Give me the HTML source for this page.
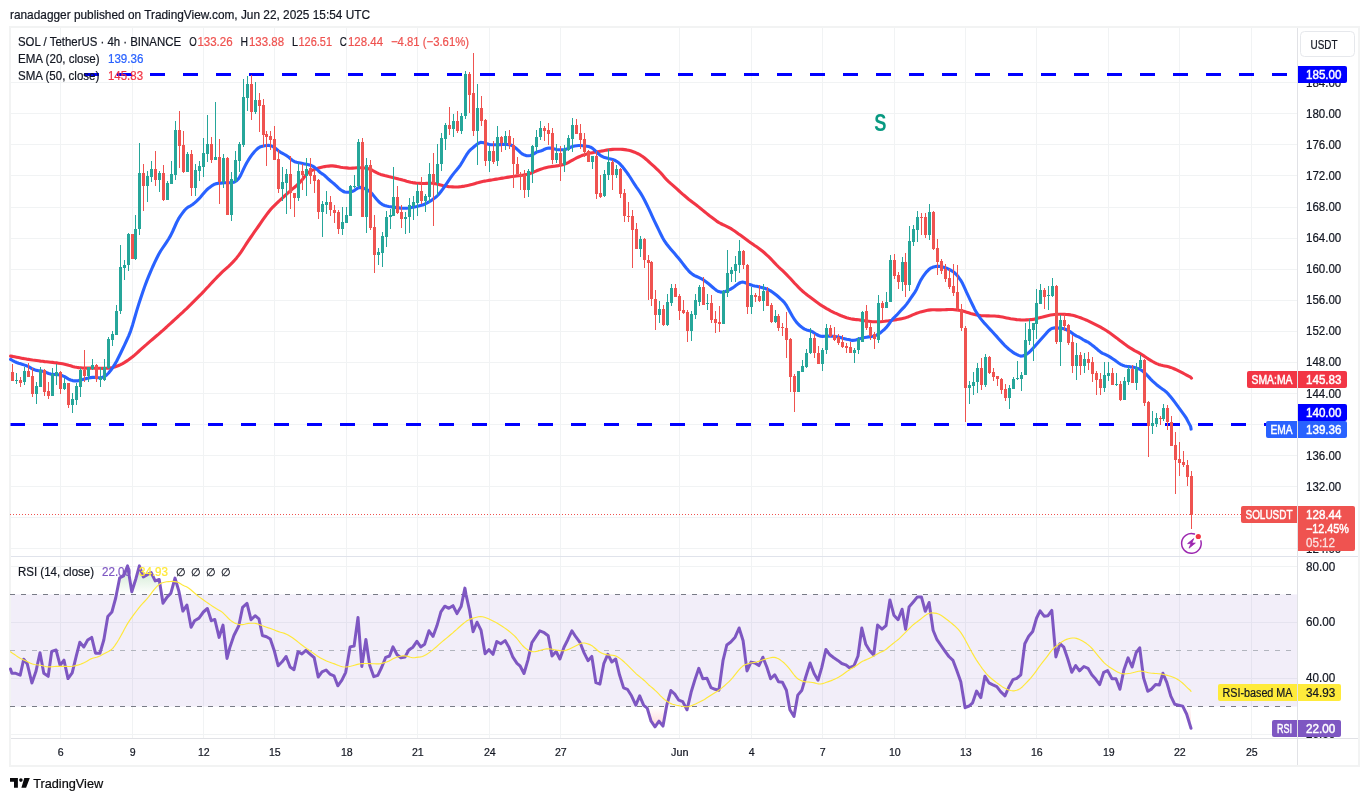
<!DOCTYPE html>
<html lang="en"><head><meta charset="utf-8"><title>SOL / TetherUS chart</title>
<style>html,body{margin:0;padding:0;background:#fff;overflow:hidden}svg{display:block}text{white-space:pre}</style>
</head><body>
<svg width="1369" height="801" viewBox="0 0 1369 801" font-family='"Liberation Sans", sans-serif'>
<rect width="1369" height="801" fill="#fff"/>
<path d="M60.5 28V556M60.5 557V738M132.5 28V556M132.5 557V738M203.5 28V556M203.5 557V738M274.5 28V556M274.5 557V738M346.5 28V556M346.5 557V738M417.5 28V556M417.5 557V738M489.5 28V556M489.5 557V738M560.5 28V556M560.5 557V738M679.5 28V556M679.5 557V738M751.5 28V556M751.5 557V738M822.5 28V556M822.5 557V738M894.5 28V556M894.5 557V738M965.5 28V556M965.5 557V738M1036.5 28V556M1036.5 557V738M1108.5 28V556M1108.5 557V738M1179.5 28V556M1179.5 557V738M1251.5 28V556M1251.5 557V738M11 548.5H1297M11 517.5H1297M11 486.5H1297M11 455.5H1297M11 424.5H1297M11 393.5H1297M11 362.5H1297M11 331.5H1297M11 300.5H1297M11 269.5H1297M11 238.5H1297M11 207.5H1297M11 175.5H1297M11 144.5H1297M11 113.5H1297M11 82.5H1297M11 566.5H1297M11 622.5H1297M11 678.5H1297M11 734.5H1297" stroke="#f1f3f4" stroke-width="1" fill="none" shape-rendering="crispEdges"/>
<rect x="11" y="594.4" width="1286" height="112.2" fill="#7e57c2" fill-opacity="0.1"/>
<rect x="10" y="27" width="1349" height="739" stroke="#f2f3f3" stroke-width="2" fill="none" shape-rendering="crispEdges"/>
<path d="M1297.5 28V765M11 738.5H1358" stroke="#e1e2e6" fill="none" shape-rendering="crispEdges"/>
<path d="M11 556.5H1358" stroke="#e0e3eb" fill="none" stroke-width="1" shape-rendering="crispEdges"/>
<path d="M84.0 74.5H99.0M117.0 74.5H132.0M150.0 74.5H165.0M183.0 74.5H198.0M216.0 74.5H231.0M249.0 74.5H264.0M282.0 74.5H297.0M315.0 74.5H330.0M348.0 74.5H363.0M381.0 74.5H396.0M414.0 74.5H429.0M447.0 74.5H462.0M480.0 74.5H495.0M513.0 74.5H528.0M546.0 74.5H561.0M579.0 74.5H594.0M612.0 74.5H627.0M645.0 74.5H660.0M678.0 74.5H693.0M711.0 74.5H726.0M744.0 74.5H759.0M777.0 74.5H792.0M810.0 74.5H825.0M843.0 74.5H858.0M876.0 74.5H891.0M909.0 74.5H924.0M942.0 74.5H957.0M975.0 74.5H990.0M1008.0 74.5H1023.0M1041.0 74.5H1056.0M1074.0 74.5H1089.0M1107.0 74.5H1122.0M1140.0 74.5H1155.0M1173.0 74.5H1188.0M1206.0 74.5H1221.0M1239.0 74.5H1254.0M1272.0 74.5H1287.0" stroke="#0000ff" stroke-width="3" fill="none"/>
<path d="M10.5 424.5H25.0M43.0 424.5H58.0M76.0 424.5H91.0M109.0 424.5H124.0M142.0 424.5H157.0M175.0 424.5H190.0M208.0 424.5H223.0M241.0 424.5H256.0M274.0 424.5H289.0M307.0 424.5H322.0M340.0 424.5H355.0M373.0 424.5H388.0M406.0 424.5H421.0M439.0 424.5H454.0M472.0 424.5H487.0M505.0 424.5H520.0M538.0 424.5H553.0M571.0 424.5H586.0M604.0 424.5H619.0M637.0 424.5H652.0M670.0 424.5H685.0M703.0 424.5H718.0M736.0 424.5H751.0M769.0 424.5H784.0M802.0 424.5H817.0M835.0 424.5H850.0M868.0 424.5H883.0M901.0 424.5H916.0M934.0 424.5H949.0M967.0 424.5H982.0M1000.0 424.5H1015.0M1033.0 424.5H1048.0M1066.0 424.5H1081.0M1099.0 424.5H1114.0M1132.0 424.5H1147.0M1165.0 424.5H1180.0M1198.0 424.5H1213.0M1231.0 424.5H1246.0M1264.0 424.5H1279.0" stroke="#0000ff" stroke-width="3" fill="none"/>
<path d="M10.6 356.1L12.6 356.4L14.6 356.8L16.6 357.2L18.6 357.6L20.6 358.0L22.6 358.4L24.6 358.7L26.6 359.1L28.6 359.4L30.6 359.7L32.6 360.0L34.6 360.2L36.6 360.5L38.6 360.8L40.6 361.1L42.6 361.3L44.6 361.6L46.6 361.8L48.6 362.0L50.6 362.2L52.6 362.4L54.6 362.7L56.6 362.9L58.6 363.2L60.6 363.5L62.6 363.8L64.6 364.2L66.6 364.7L68.6 365.3L70.6 365.8L72.6 366.4L74.6 366.9L76.6 367.3L78.6 367.6L80.6 367.8L82.6 368.0L84.6 368.1L86.6 368.1L88.6 368.1L90.6 368.1L92.6 368.2L94.6 368.2L96.6 368.2L98.6 368.3L100.6 368.3L102.6 368.4L104.6 368.3L106.6 368.3L108.6 368.1L110.6 367.9L112.6 367.5L114.6 367.0L116.6 366.3L118.6 365.5L120.6 364.6L122.6 363.6L124.6 362.4L126.6 361.1L128.6 359.8L130.6 358.3L132.6 356.8L134.6 355.1L136.6 353.3L138.6 351.5L140.6 349.7L142.6 347.9L144.6 346.1L146.6 344.4L148.6 342.6L150.6 340.9L152.6 339.2L154.6 337.5L156.6 335.8L158.6 334.1L160.6 332.3L162.6 330.6L164.6 328.8L166.6 327.0L168.6 325.1L170.6 323.3L172.6 321.5L174.6 319.7L176.6 317.8L178.6 316.0L180.6 314.1L182.6 312.3L184.6 310.4L186.6 308.6L188.6 306.6L190.6 304.7L192.6 302.7L194.6 300.7L196.6 298.7L198.6 296.7L200.6 294.7L202.6 292.6L204.6 290.5L206.6 288.3L208.6 286.2L210.6 284.0L212.6 281.9L214.6 279.8L216.6 277.7L218.6 275.7L220.6 273.6L222.6 271.7L224.6 269.9L226.6 268.1L228.6 266.3L230.6 264.4L232.6 262.4L234.6 260.2L236.6 257.9L238.6 255.4L240.6 252.6L242.6 249.6L244.6 246.5L246.6 243.4L248.6 240.4L250.6 237.5L252.6 234.6L254.6 231.7L256.6 228.9L258.6 226.0L260.6 223.1L262.6 220.1L264.6 217.3L266.6 214.6L268.6 212.0L270.6 209.6L272.6 207.3L274.6 205.3L276.6 203.3L278.6 201.5L280.6 199.6L282.6 197.8L284.6 196.0L286.6 194.2L288.6 192.4L290.6 190.6L292.6 188.9L294.6 187.2L296.6 185.5L298.6 183.7L300.6 181.6L302.6 179.2L304.6 176.6L306.6 174.2L308.6 172.4L310.6 171.1L312.6 170.1L314.6 169.4L316.6 168.7L318.6 168.1L320.6 167.5L322.6 167.0L324.6 166.6L326.6 166.3L328.6 166.1L330.6 165.9L332.6 165.9L334.6 166.1L336.6 166.4L338.6 166.8L340.6 167.2L342.6 167.5L344.6 167.7L346.6 167.9L348.6 168.1L350.6 168.2L352.6 168.1L354.6 168.0L356.6 167.8L358.6 167.8L360.6 167.8L362.6 167.9L364.6 168.0L366.6 168.3L368.6 168.8L370.6 169.5L372.6 170.5L374.6 171.6L376.6 172.7L378.6 173.6L380.6 174.4L382.6 175.0L384.6 175.6L386.6 176.1L388.6 176.6L390.6 177.0L392.6 177.4L394.6 177.9L396.6 178.4L398.6 179.0L400.6 179.5L402.6 180.1L404.6 180.6L406.6 181.2L408.6 181.7L410.6 182.2L412.6 182.6L414.6 182.9L416.6 183.2L418.6 183.3L420.6 183.4L422.6 183.5L424.6 183.5L426.6 183.4L428.6 183.3L430.6 183.2L432.6 183.3L434.6 183.6L436.6 184.0L438.6 184.4L440.6 184.9L442.6 185.4L444.6 185.8L446.6 186.3L448.6 186.6L450.6 186.8L452.6 186.9L454.6 187.0L456.6 187.0L458.6 186.9L460.6 186.7L462.6 186.4L464.6 186.1L466.6 185.7L468.6 185.3L470.6 184.8L472.6 184.3L474.6 183.7L476.6 183.1L478.6 182.6L480.6 182.0L482.6 181.5L484.6 181.1L486.6 180.8L488.6 180.4L490.6 180.1L492.6 179.8L494.6 179.4L496.6 179.1L498.6 178.8L500.6 178.4L502.6 178.1L504.6 177.8L506.6 177.4L508.6 177.1L510.6 176.8L512.6 176.5L514.6 176.2L516.6 175.9L518.6 175.7L520.6 175.4L522.6 175.2L524.6 174.8L526.6 174.4L528.6 174.0L530.6 173.3L532.6 172.6L534.6 171.7L536.6 170.8L538.6 170.0L540.6 169.3L542.6 168.6L544.6 167.9L546.6 167.4L548.6 167.0L550.6 166.7L552.6 166.4L554.6 166.2L556.6 165.9L558.6 165.6L560.6 165.2L562.6 164.8L564.6 164.2L566.6 163.3L568.6 162.3L570.6 161.2L572.6 160.1L574.6 159.0L576.6 157.9L578.6 157.0L580.6 156.1L582.6 155.3L584.6 154.7L586.6 154.1L588.6 153.5L590.6 153.1L592.6 152.7L594.6 152.3L596.6 151.9L598.6 151.6L600.6 151.2L602.6 150.9L604.6 150.5L606.6 150.1L608.6 149.8L610.6 149.6L612.6 149.4L614.6 149.3L616.6 149.3L618.6 149.2L620.6 149.3L622.6 149.4L624.6 149.6L626.6 149.9L628.6 150.3L630.6 150.8L632.6 151.5L634.6 152.2L636.6 153.1L638.6 154.0L640.6 155.2L642.6 156.5L644.6 158.0L646.6 159.7L648.6 161.5L650.6 163.3L652.6 165.1L654.6 166.9L656.6 168.8L658.6 170.7L660.6 172.8L662.6 175.1L664.6 177.4L666.6 179.6L668.6 181.6L670.6 183.4L672.6 185.1L674.6 186.9L676.6 188.7L678.6 190.5L680.6 192.3L682.6 194.1L684.6 195.8L686.6 197.5L688.6 199.2L690.6 200.7L692.6 202.3L694.6 203.8L696.6 205.3L698.6 206.9L700.6 208.5L702.6 210.1L704.6 211.8L706.6 213.4L708.6 215.0L710.6 216.6L712.6 218.1L714.6 219.6L716.6 221.1L718.6 222.4L720.6 223.5L722.6 224.5L724.6 225.4L726.6 226.3L728.6 227.3L730.6 228.4L732.6 229.7L734.6 231.0L736.6 232.4L738.6 233.9L740.6 235.3L742.6 236.8L744.6 238.3L746.6 239.8L748.6 241.3L750.6 242.7L752.6 244.1L754.6 245.5L756.6 246.8L758.6 248.2L760.6 249.7L762.6 251.3L764.6 253.0L766.6 254.8L768.6 256.6L770.6 258.6L772.6 260.7L774.6 262.9L776.6 265.0L778.6 267.0L780.6 268.9L782.6 270.7L784.6 272.6L786.6 274.6L788.6 276.7L790.6 278.8L792.6 281.0L794.6 283.2L796.6 285.3L798.6 287.4L800.6 289.3L802.6 291.2L804.6 292.9L806.6 294.5L808.6 296.1L810.6 297.6L812.6 299.1L814.6 300.6L816.6 302.1L818.6 303.5L820.6 304.9L822.6 306.2L824.6 307.4L826.6 308.6L828.6 309.7L830.6 310.8L832.6 311.8L834.6 312.8L836.6 313.7L838.6 314.6L840.6 315.5L842.6 316.3L844.6 317.0L846.6 317.7L848.6 318.3L850.6 318.8L852.6 319.1L854.6 319.4L856.6 319.6L858.6 319.8L860.6 320.1L862.6 320.4L864.6 320.7L866.6 321.1L868.6 321.3L870.6 321.5L872.6 321.7L874.6 321.8L876.6 321.8L878.6 321.8L880.6 321.7L882.6 321.5L884.6 321.3L886.6 321.0L888.6 320.8L890.6 320.5L892.6 320.2L894.6 319.9L896.6 319.6L898.6 319.2L900.6 318.9L902.6 318.5L904.6 318.1L906.6 317.4L908.6 316.7L910.6 315.8L912.6 314.9L914.6 314.1L916.6 313.3L918.6 312.6L920.6 311.9L922.6 311.4L924.6 310.9L926.6 310.5L928.6 310.1L930.6 309.9L932.6 309.8L934.6 309.8L936.6 309.9L938.6 309.9L940.6 309.9L942.6 309.8L944.6 309.7L946.6 309.6L948.6 309.5L950.6 309.5L952.6 309.5L954.6 309.7L956.6 309.9L958.6 310.2L960.6 310.5L962.6 311.0L964.6 311.6L966.6 312.2L968.6 312.8L970.6 313.4L972.6 313.9L974.6 314.5L976.6 315.0L978.6 315.3L980.6 315.6L982.6 315.7L984.6 315.8L986.6 315.9L988.6 315.9L990.6 316.0L992.6 316.0L994.6 316.0L996.6 316.2L998.6 316.4L1000.6 316.7L1002.6 317.1L1004.6 317.5L1006.6 317.9L1008.6 318.3L1010.6 318.7L1012.6 319.0L1014.6 319.3L1016.6 319.6L1018.6 319.7L1020.6 319.9L1022.6 320.0L1024.6 320.0L1026.6 319.9L1028.6 319.8L1030.6 319.6L1032.6 319.4L1034.6 319.1L1036.6 318.6L1038.6 318.1L1040.6 317.6L1042.6 317.1L1044.6 316.5L1046.6 315.9L1048.6 315.4L1050.6 315.0L1052.6 314.7L1054.6 314.5L1056.6 314.4L1058.6 314.3L1060.6 314.3L1062.6 314.3L1064.6 314.4L1066.6 314.5L1068.6 314.6L1070.6 314.9L1072.6 315.3L1074.6 315.8L1076.6 316.4L1078.6 317.1L1080.6 317.8L1082.6 318.6L1084.6 319.4L1086.6 320.2L1088.6 321.1L1090.6 322.1L1092.6 323.1L1094.6 324.1L1096.6 325.1L1098.6 326.1L1100.6 327.2L1102.6 328.3L1104.6 329.5L1106.6 330.8L1108.6 332.1L1110.6 333.5L1112.6 334.9L1114.6 336.4L1116.6 337.9L1118.6 339.5L1120.6 341.1L1122.6 342.6L1124.6 344.1L1126.6 345.5L1128.6 346.9L1130.6 348.2L1132.6 349.4L1134.6 350.6L1136.6 351.6L1138.6 352.7L1140.6 353.9L1142.6 355.1L1144.6 356.4L1146.6 357.8L1148.6 359.1L1150.6 360.3L1152.6 361.5L1154.6 362.6L1156.6 363.6L1158.6 364.4L1160.6 365.0L1162.6 365.5L1164.6 365.9L1166.6 366.3L1168.6 366.8L1170.6 367.4L1172.6 368.1L1174.6 369.0L1176.6 369.9L1178.6 370.9L1180.6 371.9L1182.6 372.9L1184.6 374.0L1186.6 375.1L1188.6 376.2L1190.6 377.2L1191.5 378.2" stroke="#f23645" stroke-width="3.1" fill="none" stroke-linejoin="round" stroke-linecap="round"/>
<path d="M10.6 359.3L12.6 360.5L14.6 361.6L16.6 362.5L18.6 363.2L20.6 363.8L22.6 364.4L24.6 365.1L26.6 365.8L28.6 366.7L30.6 367.8L32.6 369.0L34.6 369.8L36.6 370.4L38.6 370.7L40.6 370.9L42.6 371.2L44.6 371.7L46.6 372.6L48.6 373.5L50.6 374.1L52.6 374.3L54.6 374.5L56.6 374.7L58.6 374.8L60.6 375.2L62.6 375.8L64.6 376.7L66.6 377.9L68.6 379.1L70.6 380.0L72.6 380.6L74.6 380.9L76.6 380.9L78.6 380.6L80.6 380.1L82.6 379.6L84.6 379.0L86.6 378.4L88.6 377.9L90.6 377.6L92.6 377.4L94.6 377.4L96.6 377.6L98.6 377.7L100.6 377.7L102.6 377.3L104.6 376.5L106.6 375.0L108.6 373.0L110.6 370.6L112.6 367.8L114.6 364.6L116.6 361.2L118.6 357.3L120.6 353.2L122.6 349.0L124.6 344.8L126.6 340.5L128.6 336.1L130.6 331.1L132.6 324.9L134.6 318.0L136.6 311.1L138.6 304.6L140.6 298.4L142.6 292.4L144.6 286.7L146.6 281.4L148.6 276.4L150.6 271.6L152.6 267.0L154.6 262.7L156.6 258.5L158.6 254.5L160.6 251.0L162.6 248.0L164.6 245.1L166.6 242.1L168.6 239.0L170.6 235.6L172.6 231.5L174.6 227.0L176.6 222.5L178.6 218.7L180.6 215.6L182.6 212.9L184.6 210.3L186.6 208.2L188.6 206.8L190.6 205.8L192.6 204.5L194.6 202.9L196.6 201.1L198.6 199.2L200.6 197.0L202.6 194.6L204.6 192.2L206.6 190.0L208.6 188.2L210.6 186.7L212.6 185.3L214.6 184.2L216.6 183.6L218.6 183.3L220.6 183.1L222.6 182.9L224.6 182.8L226.6 182.7L228.6 182.7L230.6 182.7L232.6 182.5L234.6 181.9L236.6 180.7L238.6 178.7L240.6 175.4L242.6 171.2L244.6 166.9L246.6 163.0L248.6 159.7L250.6 156.7L252.6 153.9L254.6 151.5L256.6 149.5L258.6 147.8L260.6 146.7L262.6 146.2L264.6 145.8L266.6 145.5L268.6 145.4L270.6 145.7L272.6 146.4L274.6 147.6L276.6 149.3L278.6 150.9L280.6 152.3L282.6 153.4L284.6 154.5L286.6 155.7L288.6 157.1L290.6 158.9L292.6 160.5L294.6 161.7L296.6 162.3L298.6 162.7L300.6 163.1L302.6 163.5L304.6 163.9L306.6 164.3L308.6 164.7L310.6 165.3L312.6 166.1L314.6 167.4L316.6 169.0L318.6 171.0L320.6 172.8L322.6 174.1L324.6 175.5L326.6 177.3L328.6 179.3L330.6 181.0L332.6 182.6L334.6 184.3L336.6 186.2L338.6 188.1L340.6 189.7L342.6 191.0L344.6 192.0L346.6 192.3L348.6 192.2L350.6 191.9L352.6 191.3L354.6 190.3L356.6 188.8L358.6 187.6L360.6 187.4L362.6 187.8L364.6 188.6L366.6 189.4L368.6 190.5L370.6 192.2L372.6 194.4L374.6 196.9L376.6 199.3L378.6 201.5L380.6 203.3L382.6 204.6L384.6 205.5L386.6 206.1L388.6 206.5L390.6 206.7L392.6 207.0L394.6 207.3L396.6 207.6L398.6 207.8L400.6 208.1L402.6 208.2L404.6 208.2L406.6 208.2L408.6 208.0L410.6 207.7L412.6 207.3L414.6 206.9L416.6 206.5L418.6 206.0L420.6 205.5L422.6 205.0L424.6 204.2L426.6 203.2L428.6 202.1L430.6 201.0L432.6 199.6L434.6 198.1L436.6 196.5L438.6 194.5L440.6 192.0L442.6 189.3L444.6 186.5L446.6 183.6L448.6 180.6L450.6 177.7L452.6 174.9L454.6 172.4L456.6 170.0L458.6 167.5L460.6 164.8L462.6 161.5L464.6 158.0L466.6 154.7L468.6 151.8L470.6 149.6L472.6 148.0L474.6 146.3L476.6 144.6L478.6 143.2L480.6 142.4L482.6 142.5L484.6 143.1L486.6 143.7L488.6 144.3L490.6 144.7L492.6 144.8L494.6 144.8L496.6 144.8L498.6 144.7L500.6 144.6L502.6 144.5L504.6 144.4L506.6 144.5L508.6 144.6L510.6 145.0L512.6 145.8L514.6 147.2L516.6 148.8L518.6 150.7L520.6 152.6L522.6 154.2L524.6 155.1L526.6 155.7L528.6 155.8L530.6 155.4L532.6 154.6L534.6 153.4L536.6 152.1L538.6 151.5L540.6 151.1L542.6 150.3L544.6 149.2L546.6 148.4L548.6 148.0L550.6 148.1L552.6 148.5L554.6 149.0L556.6 149.5L558.6 149.7L560.6 149.8L562.6 149.8L564.6 149.7L566.6 149.1L568.6 148.2L570.6 147.3L572.6 146.5L574.6 146.0L576.6 145.7L578.6 145.5L580.6 145.5L582.6 145.7L584.6 145.9L586.6 146.2L588.6 146.6L590.6 147.2L592.6 148.4L594.6 150.2L596.6 152.2L598.6 154.1L600.6 155.6L602.6 156.7L604.6 157.6L606.6 158.1L608.6 158.6L610.6 159.0L612.6 159.5L614.6 160.2L616.6 161.3L618.6 162.7L620.6 164.7L622.6 166.9L624.6 169.5L626.6 172.2L628.6 175.0L630.6 178.0L632.6 181.2L634.6 184.3L636.6 187.3L638.6 190.1L640.6 193.1L642.6 196.5L644.6 200.2L646.6 204.2L648.6 208.4L650.6 212.7L652.6 217.1L654.6 221.3L656.6 225.5L658.6 229.7L660.6 233.8L662.6 237.8L664.6 241.2L666.6 244.0L668.6 246.5L670.6 248.9L672.6 251.2L674.6 253.5L676.6 255.9L678.6 258.3L680.6 260.8L682.6 263.4L684.6 266.0L686.6 268.5L688.6 270.8L690.6 272.8L692.6 274.4L694.6 275.6L696.6 276.5L698.6 277.4L700.6 278.4L702.6 279.4L704.6 280.7L706.6 282.2L708.6 283.8L710.6 285.5L712.6 287.2L714.6 288.9L716.6 290.5L718.6 291.6L720.6 292.1L722.6 292.0L724.6 291.7L726.6 291.1L728.6 290.2L730.6 289.1L732.6 287.9L734.6 286.5L736.6 284.9L738.6 283.5L740.6 282.5L742.6 282.1L744.6 282.5L746.6 283.3L748.6 284.2L750.6 284.8L752.6 285.4L754.6 285.9L756.6 286.3L758.6 286.8L760.6 287.2L762.6 287.7L764.6 288.3L766.6 289.0L768.6 289.8L770.6 290.9L772.6 292.2L774.6 293.7L776.6 295.3L778.6 297.0L780.6 298.8L782.6 300.6L784.6 302.8L786.6 305.7L788.6 309.2L790.6 312.9L792.6 316.5L794.6 319.7L796.6 322.4L798.6 324.5L800.6 326.3L802.6 327.9L804.6 329.1L806.6 329.9L808.6 330.4L810.6 330.9L812.6 331.9L814.6 333.2L816.6 334.5L818.6 335.5L820.6 336.2L822.6 336.4L824.6 336.2L826.6 336.1L828.6 336.1L830.6 336.1L832.6 336.3L834.6 336.4L836.6 336.7L838.6 337.1L840.6 337.6L842.6 338.2L844.6 338.7L846.6 339.2L848.6 339.6L850.6 340.1L852.6 340.4L854.6 340.3L856.6 339.7L858.6 339.0L860.6 338.4L862.6 338.0L864.6 337.6L866.6 337.2L868.6 336.9L870.6 336.6L872.6 336.3L874.6 335.9L876.6 335.1L878.6 333.9L880.6 332.6L882.6 330.9L884.6 329.2L886.6 327.2L888.6 324.5L890.6 321.6L892.6 319.1L894.6 317.1L896.6 315.2L898.6 313.0L900.6 310.7L902.6 308.6L904.6 306.6L906.6 304.1L908.6 301.3L910.6 298.3L912.6 295.5L914.6 292.6L916.6 289.2L918.6 284.7L920.6 280.4L922.6 277.2L924.6 274.4L926.6 271.8L928.6 269.8L930.6 268.2L932.6 267.3L934.6 266.7L936.6 266.4L938.6 266.3L940.6 266.5L942.6 266.9L944.6 267.5L946.6 268.3L948.6 269.1L950.6 270.2L952.6 271.3L954.6 272.8L956.6 274.8L958.6 277.3L960.6 280.1L962.6 283.6L964.6 287.9L966.6 292.4L968.6 296.6L970.6 300.8L972.6 305.0L974.6 309.2L976.6 312.7L978.6 315.8L980.6 318.6L982.6 321.1L984.6 323.4L986.6 325.5L988.6 327.7L990.6 329.9L992.6 332.0L994.6 334.2L996.6 336.4L998.6 338.7L1000.6 340.9L1002.6 343.1L1004.6 345.3L1006.6 347.2L1008.6 349.0L1010.6 350.6L1012.6 352.1L1014.6 353.3L1016.6 354.4L1018.6 355.4L1020.6 356.1L1022.6 356.0L1024.6 355.3L1026.6 354.2L1028.6 352.8L1030.6 350.9L1032.6 348.7L1034.6 346.4L1036.6 344.2L1038.6 341.9L1040.6 339.7L1042.6 337.4L1044.6 335.2L1046.6 332.9L1048.6 330.8L1050.6 329.1L1052.6 328.2L1054.6 327.9L1056.6 328.0L1058.6 328.1L1060.6 328.2L1062.6 328.5L1064.6 329.0L1066.6 329.8L1068.6 330.8L1070.6 331.9L1072.6 333.4L1074.6 334.9L1076.6 336.1L1078.6 336.9L1080.6 338.0L1082.6 339.3L1084.6 340.5L1086.6 341.5L1088.6 342.4L1090.6 343.9L1092.6 345.6L1094.6 347.1L1096.6 348.7L1098.6 350.6L1100.6 352.1L1102.6 353.3L1104.6 354.2L1106.6 355.2L1108.6 356.2L1110.6 357.4L1112.6 358.7L1114.6 360.1L1116.6 361.6L1118.6 363.0L1120.6 364.3L1122.6 365.2L1124.6 365.9L1126.6 366.3L1128.6 366.6L1130.6 366.9L1132.6 367.1L1134.6 367.6L1136.6 368.1L1138.6 368.8L1140.6 369.7L1142.6 371.1L1144.6 372.8L1146.6 374.7L1148.6 376.9L1150.6 379.1L1152.6 381.1L1154.6 382.9L1156.6 384.7L1158.6 386.3L1160.6 387.8L1162.6 389.2L1164.6 390.6L1166.6 392.3L1168.6 394.4L1170.6 396.8L1172.6 399.3L1174.6 401.9L1176.6 404.6L1178.6 407.3L1180.6 410.1L1182.6 412.8L1184.6 415.6L1186.6 418.7L1188.6 422.6L1190.6 426.4L1191.1 429.1" stroke="#2962ff" stroke-width="3.1" fill="none" stroke-linejoin="round" stroke-linecap="round"/>
<g shape-rendering="crispEdges"><path d="M16.5 373V384M24.5 367V385M36.5 382V404M40.5 367V387M52.5 368V396M56.5 364V385M64.5 378V390M72.5 393V413M76.5 383V405M80.5 368V397M88.5 367V382M92.5 359V370M100.5 367V387M104.5 359V381M108.5 337V369M112.5 331V346M116.5 305V335M120.5 245V314M124.5 260V280M128.5 233V271M135.5 215V260M139.5 143V235M147.5 171V202M151.5 161V182M159.5 171V192M167.5 181V200M171.5 161V184M175.5 121V180M187.5 152V172M195.5 164V196M199.5 161V181M203.5 138V177M207.5 115V162M215.5 102V160M223.5 154V188M231.5 172V221M235.5 151V183M239.5 142V172M243.5 79V147M247.5 76V111M255.5 82V114M282.5 167V201M286.5 169V214M298.5 163V201M306.5 158V196M322.5 201V237M326.5 191V214M342.5 207V235M346.5 207V223M350.5 185V216M354.5 175V188M358.5 139V188M366.5 158V233M378.5 248V265M382.5 232V267M386.5 211V247M390.5 209V229M393.5 167V216M405.5 212V234M409.5 198V233M413.5 196V220M417.5 184V216M425.5 194V212M429.5 163V203M437.5 144V196M441.5 133V171M445.5 123V150M453.5 114V137M461.5 113V134M465.5 71V119M477.5 84V165M489.5 146V172M497.5 126V166M505.5 131V150M528.5 169V197M532.5 145V183M536.5 130V152M540.5 121V140M556.5 144V163M564.5 145V172M568.5 135V151M572.5 118V152M592.5 156V169M604.5 170V197M608.5 149V180M616.5 165V178M640.5 236V257M659.5 301V323M667.5 294V326M671.5 284V306M691.5 311V341M695.5 294V319M699.5 285V306M707.5 294V310M723.5 290V324M727.5 250V297M731.5 267V282M735.5 256V282M739.5 240V273M751.5 287V314M763.5 284V311M775.5 310V323M798.5 371V392M802.5 360V372M806.5 349V368M810.5 328V354M822.5 348V371M826.5 324V354M854.5 348V363M858.5 337V354M862.5 311V342M878.5 295V343M886.5 292V308M890.5 255V302M902.5 257V291M909.5 226V291M913.5 225V246M917.5 211V242M929.5 204V240M969.5 381V404M973.5 372V395M977.5 363V393M985.5 354V387M1009.5 385V409M1013.5 377V389M1017.5 361V380M1021.5 372V391M1025.5 323V375M1029.5 319V345M1033.5 323V361M1036.5 289V339M1040.5 284V304M1048.5 286V310M1052.5 278V297M1060.5 315V366M1076.5 343V380M1084.5 353V373M1104.5 362V392M1108.5 362V381M1116.5 373V386M1124.5 377V400M1128.5 366V385M1136.5 363V390M1140.5 355V369M1152.5 411V434M1156.5 413V427M1163.5 404V421" stroke="#26a69a" fill="none"/><path d="M12.5 364V381M20.5 377V387M28.5 363V377M32.5 368V397M44.5 369V396M48.5 382V399M60.5 371V394M68.5 383V408M84.5 350V382M96.5 364V382M132.5 234V259M143.5 164V211M155.5 151V186M163.5 165V201M179.5 111V168M183.5 131V173M191.5 150V196M211.5 137V163M219.5 139V204M227.5 157V215M251.5 75V120M259.5 93V132M263.5 99V147M266.5 131V166M270.5 131V150M274.5 126V160M278.5 150V193M290.5 156V209M294.5 193V217M302.5 164V190M310.5 158V184M314.5 170V193M318.5 179V219M330.5 196V216M334.5 205V223M338.5 210V234M362.5 138V217M370.5 160V230M374.5 215V273M397.5 186V214M401.5 205V228M421.5 177V204M433.5 153V226M449.5 107V135M457.5 111V133M469.5 72V113M473.5 53V136M481.5 96V126M485.5 119V166M493.5 141V164M501.5 136V152M509.5 130V149M513.5 138V188M517.5 157V174M520.5 172V190M524.5 170V198M544.5 126V141M548.5 123V145M552.5 128V164M560.5 146V181M576.5 119V134M580.5 124V149M584.5 133V157M588.5 150V162M596.5 151V199M600.5 175V198M612.5 160V190M620.5 168V198M624.5 189V222M628.5 202V222M632.5 210V268M636.5 223V249M644.5 238V268M648.5 255V300M651.5 261V306M655.5 290V330M663.5 305V326M675.5 284V297M679.5 294V320M683.5 300V314M687.5 310V342M703.5 277V305M711.5 295V323M715.5 311V333M719.5 306V332M743.5 250V269M747.5 264V314M755.5 293V302M759.5 285V302M767.5 287V306M771.5 303V323M778.5 314V331M782.5 323V336M786.5 312V358M790.5 338V392M794.5 374V412M814.5 334V358M818.5 346V364M830.5 325V337M834.5 327V341M838.5 334V345M842.5 335V348M846.5 343V353M850.5 342V353M866.5 305V330M870.5 322V340M874.5 332V349M882.5 301V321M894.5 254V279M898.5 272V289M905.5 253V297M921.5 213V235M925.5 213V238M933.5 211V250M937.5 239V275M941.5 259V274M945.5 264V282M949.5 269V289M953.5 264V296M957.5 265V311M961.5 304V331M965.5 326V422M981.5 358V390M989.5 356V374M993.5 368V381M997.5 376V386M1001.5 378V394M1005.5 384V401M1044.5 288V309M1056.5 285V344M1064.5 314V331M1068.5 324V345M1072.5 335V373M1080.5 352V375M1088.5 352V370M1092.5 357V382M1096.5 371V395M1100.5 373V395M1112.5 368V385M1120.5 381V401M1132.5 365V383M1144.5 359V406M1148.5 401V457M1160.5 416V425M1167.5 405V430M1171.5 416V446M1175.5 432V494M1179.5 442V476M1183.5 451V467M1187.5 460V486M1191.5 471V529" stroke="#ef5350" fill="none"/>
<path d="M15 380h3V381h-3ZM23 371h3V382h-3ZM35 386h3V394h-3ZM39 370h3V387h-3ZM51 374h3V396h-3ZM55 372h3V376h-3ZM63 383h3V389h-3ZM71 399h3V405h-3ZM75 386h3V400h-3ZM79 370h3V387h-3ZM87 367h3V376h-3ZM91 365h3V369h-3ZM99 377h3V380h-3ZM103 367h3V380h-3ZM107 339h3V368h-3ZM111 334h3V340h-3ZM115 311h3V335h-3ZM119 267h3V311h-3ZM123 265h3V268h-3ZM127 234h3V265h-3ZM134 229h3V259h-3ZM138 173h3V229h-3ZM146 176h3V186h-3ZM150 169h3V177h-3ZM158 173h3V180h-3ZM166 183h3V200h-3ZM170 174h3V184h-3ZM174 130h3V175h-3ZM186 154h3V172h-3ZM194 170h3V188h-3ZM198 166h3V171h-3ZM202 153h3V167h-3ZM206 144h3V154h-3ZM214 157h3V160h-3ZM222 158h3V182h-3ZM230 179h3V215h-3ZM234 160h3V181h-3ZM238 144h3V161h-3ZM242 97h3V145h-3ZM246 84h3V98h-3ZM254 100h3V112h-3ZM281 182h3V189h-3ZM285 174h3V183h-3ZM297 171h3V198h-3ZM305 169h3V176h-3ZM321 204h3V212h-3ZM325 202h3V205h-3ZM341 222h3V229h-3ZM345 215h3V223h-3ZM349 186h3V216h-3ZM353 186h3V187h-3ZM357 142h3V186h-3ZM365 165h3V217h-3ZM377 252h3V255h-3ZM381 236h3V253h-3ZM385 217h3V237h-3ZM389 215h3V217h-3ZM392 197h3V216h-3ZM404 217h3V219h-3ZM408 205h3V217h-3ZM412 202h3V206h-3ZM416 191h3V203h-3ZM424 196h3V201h-3ZM428 174h3V197h-3ZM436 164h3V183h-3ZM440 138h3V164h-3ZM444 125h3V139h-3ZM452 121h3V129h-3ZM460 116h3V131h-3ZM464 74h3V116h-3ZM476 108h3V131h-3ZM488 151h3V161h-3ZM496 137h3V161h-3ZM504 136h3V143h-3ZM527 171h3V190h-3ZM531 146h3V172h-3ZM535 137h3V147h-3ZM539 128h3V137h-3ZM555 153h3V160h-3ZM563 149h3V165h-3ZM567 138h3V150h-3ZM571 125h3V139h-3ZM591 156h3V162h-3ZM603 174h3V196h-3ZM607 162h3V175h-3ZM615 169h3V175h-3ZM639 239h3V249h-3ZM658 309h3V315h-3ZM666 302h3V325h-3ZM670 288h3V303h-3ZM690 314h3V331h-3ZM694 300h3V315h-3ZM698 287h3V302h-3ZM706 303h3V304h-3ZM722 291h3V324h-3ZM726 273h3V293h-3ZM730 270h3V274h-3ZM734 264h3V271h-3ZM738 251h3V265h-3ZM750 295h3V307h-3ZM762 291h3V301h-3ZM774 316h3V322h-3ZM797 371h3V392h-3ZM801 366h3V372h-3ZM805 353h3V367h-3ZM809 338h3V353h-3ZM821 350h3V364h-3ZM825 328h3V350h-3ZM853 350h3V353h-3ZM857 339h3V350h-3ZM861 312h3V342h-3ZM877 303h3V340h-3ZM885 302h3V308h-3ZM889 260h3V302h-3ZM901 262h3V282h-3ZM908 241h3V285h-3ZM912 229h3V242h-3ZM916 217h3V230h-3ZM928 212h3V235h-3ZM968 385h3V388h-3ZM972 382h3V386h-3ZM976 368h3V382h-3ZM984 357h3V385h-3ZM1008 388h3V398h-3ZM1012 379h3V389h-3ZM1016 378h3V379h-3ZM1020 375h3V379h-3ZM1024 340h3V375h-3ZM1028 329h3V341h-3ZM1032 323h3V330h-3ZM1035 303h3V324h-3ZM1039 290h3V304h-3ZM1047 295h3V296h-3ZM1051 286h3V296h-3ZM1059 320h3V342h-3ZM1075 355h3V366h-3ZM1083 359h3V366h-3ZM1103 375h3V388h-3ZM1107 373h3V376h-3ZM1115 384h3V385h-3ZM1123 381h3V400h-3ZM1127 369h3V382h-3ZM1135 368h3V383h-3ZM1139 360h3V368h-3ZM1151 423h3V426h-3ZM1155 418h3V424h-3ZM1162 408h3V419h-3Z" fill="#26a69a"/><path d="M11 372h3V381h-3ZM19 380h3V383h-3ZM27 371h3V377h-3ZM31 376h3V394h-3ZM43 370h3V392h-3ZM47 391h3V396h-3ZM59 372h3V389h-3ZM67 383h3V405h-3ZM83 370h3V376h-3ZM95 365h3V379h-3ZM131 234h3V259h-3ZM142 173h3V186h-3ZM154 169h3V180h-3ZM162 173h3V200h-3ZM178 130h3V146h-3ZM182 145h3V172h-3ZM190 154h3V188h-3ZM210 144h3V160h-3ZM218 157h3V182h-3ZM226 158h3V215h-3ZM250 84h3V112h-3ZM258 100h3V106h-3ZM262 105h3V135h-3ZM265 134h3V137h-3ZM269 136h3V140h-3ZM273 139h3V160h-3ZM277 159h3V189h-3ZM289 174h3V193h-3ZM293 193h3V198h-3ZM301 171h3V175h-3ZM309 168h3V176h-3ZM313 175h3V181h-3ZM317 180h3V212h-3ZM329 202h3V210h-3ZM333 210h3V213h-3ZM337 212h3V229h-3ZM361 142h3V217h-3ZM369 165h3V228h-3ZM373 227h3V255h-3ZM396 197h3V213h-3ZM400 212h3V219h-3ZM420 191h3V201h-3ZM432 174h3V183h-3ZM448 125h3V129h-3ZM456 121h3V131h-3ZM468 74h3V95h-3ZM472 93h3V131h-3ZM480 108h3V121h-3ZM484 120h3V161h-3ZM492 151h3V162h-3ZM500 137h3V143h-3ZM508 136h3V145h-3ZM512 145h3V164h-3ZM516 164h3V174h-3ZM519 174h3V176h-3ZM523 175h3V190h-3ZM543 128h3V131h-3ZM547 130h3V134h-3ZM551 133h3V160h-3ZM559 153h3V165h-3ZM575 125h3V134h-3ZM579 133h3V140h-3ZM583 139h3V152h-3ZM587 151h3V162h-3ZM595 156h3V194h-3ZM599 193h3V197h-3ZM611 162h3V175h-3ZM619 169h3V194h-3ZM623 193h3V216h-3ZM627 216h3V217h-3ZM631 216h3V230h-3ZM635 229h3V249h-3ZM643 239h3V260h-3ZM647 260h3V263h-3ZM650 262h3V299h-3ZM654 299h3V315h-3ZM662 309h3V325h-3ZM674 288h3V297h-3ZM678 296h3V311h-3ZM682 310h3V313h-3ZM686 312h3V331h-3ZM702 287h3V305h-3ZM710 303h3V320h-3ZM714 319h3V323h-3ZM718 322h3V324h-3ZM742 251h3V265h-3ZM746 265h3V307h-3ZM754 295h3V297h-3ZM758 296h3V301h-3ZM766 291h3V306h-3ZM770 305h3V322h-3ZM777 316h3V328h-3ZM781 327h3V328h-3ZM785 328h3V340h-3ZM789 339h3V377h-3ZM793 376h3V392h-3ZM813 338h3V353h-3ZM817 353h3V364h-3ZM829 328h3V336h-3ZM833 335h3V340h-3ZM837 337h3V343h-3ZM841 342h3V347h-3ZM845 346h3V348h-3ZM849 347h3V353h-3ZM865 311h3V328h-3ZM869 327h3V336h-3ZM873 334h3V339h-3ZM881 303h3V308h-3ZM893 260h3V276h-3ZM897 275h3V282h-3ZM904 262h3V285h-3ZM920 217h3V218h-3ZM924 217h3V235h-3ZM932 212h3V249h-3ZM936 248h3V262h-3ZM940 261h3V271h-3ZM944 269h3V279h-3ZM948 278h3V287h-3ZM952 286h3V293h-3ZM956 292h3V309h-3ZM960 309h3V328h-3ZM964 328h3V388h-3ZM980 368h3V385h-3ZM988 357h3V373h-3ZM992 372h3V377h-3ZM996 376h3V379h-3ZM1000 379h3V390h-3ZM1004 389h3V398h-3ZM1043 290h3V297h-3ZM1055 286h3V342h-3ZM1063 320h3V326h-3ZM1067 325h3V343h-3ZM1071 342h3V366h-3ZM1079 355h3V366h-3ZM1087 359h3V363h-3ZM1091 362h3V374h-3ZM1095 373h3V380h-3ZM1099 379h3V388h-3ZM1111 373h3V385h-3ZM1119 384h3V400h-3ZM1131 369h3V383h-3ZM1143 360h3V403h-3ZM1147 402h3V426h-3ZM1159 418h3V419h-3ZM1166 408h3V422h-3ZM1170 422h3V446h-3ZM1174 445h3V460h-3ZM1178 459h3V463h-3ZM1182 462h3V465h-3ZM1186 465h3V477h-3ZM1190 476h3V515h-3Z" fill="#ef5350"/></g>
<path d="M10 514.5H1241" stroke="#ef5350" stroke-width="1" stroke-dasharray="1 2" fill="none" shape-rendering="crispEdges"/>
<defs><linearGradient id="gu" gradientUnits="userSpaceOnUse" x1="0" y1="560" x2="0" y2="594.4"><stop offset="0" stop-color="#4caf50" stop-opacity="0.35"/><stop offset="1" stop-color="#4caf50" stop-opacity="0"/></linearGradient><linearGradient id="gd" gradientUnits="userSpaceOnUse" x1="0" y1="706.6" x2="0" y2="738"><stop offset="0" stop-color="#ff5252" stop-opacity="0"/><stop offset="1" stop-color="#ff5252" stop-opacity="0.35"/></linearGradient><clipPath id="cu"><rect x="11" y="557" width="1286" height="37.4"/></clipPath><clipPath id="cd"><rect x="11" y="706.6" width="1286" height="31.4"/></clipPath></defs>
<path d="M10.5 669.0L11.9 673.3L15.8 673.3L20.2 675.1L23.7 659.3L27.2 663.7L31.9 683.0L35.9 671.6L40.0 652.8L43.8 673.3L48.2 676.3L51.7 651.4L56.1 650.0L60.1 665.4L64.0 660.2L68.0 678.6L72.2 672.8L76.3 655.8L79.8 642.3L83.8 647.0L87.7 640.0L91.7 637.4L95.5 653.2L99.9 653.2L103.8 640.0L107.8 616.4L111.9 612.0L115.7 598.0L119.7 577.8L123.6 576.0L127.6 565.9L131.8 591.8L135.9 578.7L139.4 565.9L143.4 576.9L147.3 574.6L151.1 572.5L155.2 580.9L159.2 579.5L163.0 603.2L167.1 597.1L170.9 593.2L175.0 578.1L178.8 590.9L182.9 611.1L186.9 605.0L191.1 627.2L194.6 620.7L199.0 618.1L203.4 612.0L207.4 608.5L211.3 620.7L214.8 619.5L219.1 637.4L223.0 625.1L227.0 658.4L230.0 646.9L233.9 635.5L238.8 625.8L242.6 607.4L247.0 603.4L251.0 619.7L255.1 615.7L258.9 618.8L262.4 635.5L266.5 636.7L270.3 639.0L274.2 650.4L278.2 665.8L282.1 661.8L286.1 656.5L290.1 667.0L294.0 669.7L298.0 651.8L301.9 653.9L305.9 650.4L309.8 653.9L314.2 657.7L318.2 677.0L322.0 671.8L326.1 670.0L329.9 674.1L334.0 675.8L337.8 685.8L341.9 680.2L345.7 672.3L350.1 646.9L354.1 646.0L358.0 617.4L361.8 666.5L365.9 639.5L369.7 665.3L373.8 676.7L377.8 675.3L381.8 667.0L385.7 657.4L389.5 656.0L393.0 646.9L397.1 654.8L400.9 657.7L405.0 657.0L408.8 650.0L412.9 647.2L416.9 641.3L420.7 646.9L424.6 644.2L429.0 630.8L433.0 636.4L436.9 625.8L440.9 611.8L444.8 606.2L448.8 608.3L453.0 605.7L457.0 613.6L461.1 606.6L464.9 588.1L466.1 595.0L469.6 610.8L473.1 631.8L477.0 622.2L481.0 630.1L485.1 653.7L488.9 649.7L493.0 654.3L496.8 641.5L500.8 643.7L505.1 640.6L509.1 647.6L512.9 657.2L517.0 663.4L520.1 666.0L524.0 673.5L528.0 659.9L531.9 642.7L535.9 636.7L539.8 630.9L544.2 632.7L548.2 635.7L552.0 656.0L556.1 651.5L559.9 659.0L564.0 647.2L567.8 639.7L571.9 630.9L575.7 636.7L580.1 642.7L584.1 652.9L588.0 660.7L591.8 656.4L595.9 682.7L599.9 684.1L603.8 663.7L607.8 654.3L611.8 662.0L615.7 659.0L619.5 674.8L623.6 687.9L627.4 689.3L631.5 695.8L635.8 705.1L639.7 695.8L643.7 705.4L647.2 708.1L651.1 721.2L655.0 726.8L659.0 721.2L663.0 726.1L666.9 704.6L670.9 690.5L674.8 694.1L678.8 700.2L682.7 701.6L687.0 709.8L691.1 692.3L694.9 679.7L698.8 668.3L702.8 678.8L707.0 678.3L711.0 687.6L715.1 689.3L718.9 690.2L723.0 660.7L726.8 645.0L730.8 642.0L735.1 637.2L739.1 628.0L743.1 640.8L747.0 670.9L751.0 662.1L754.9 663.0L758.9 665.6L762.9 657.2L766.8 667.0L770.6 678.8L774.7 674.8L778.5 681.8L782.4 682.3L786.4 690.2L789.9 709.8L794.0 716.5L797.8 695.1L801.9 690.2L805.7 677.0L810.1 663.0L814.1 673.5L818.0 680.2L821.8 667.4L825.9 649.5L829.9 654.8L833.8 657.8L837.8 660.4L841.8 663.5L845.7 664.8L849.5 667.7L853.9 666.0L858.0 656.0L861.8 628.0L865.8 644.3L869.7 650.7L873.7 655.1L877.6 625.0L882.0 629.2L886.0 625.7L889.9 599.9L893.9 615.2L898.1 619.7L902.1 609.2L905.6 629.2L909.1 606.9L913.5 601.7L917.4 596.9L921.4 596.9L925.3 611.3L929.1 602.5L933.1 630.2L937.0 639.7L941.0 645.5L945.1 651.3L948.9 656.5L953.0 660.4L956.8 670.6L960.8 681.8L965.1 707.7L969.1 706.0L972.6 702.8L976.6 691.1L980.8 697.6L984.9 676.2L988.9 682.8L992.9 684.9L996.8 686.7L1000.6 691.6L1005.0 695.8L1008.9 687.0L1012.9 679.7L1016.8 678.3L1020.8 674.8L1024.8 643.7L1028.7 636.2L1032.7 631.5L1036.6 618.0L1040.1 610.9L1044.1 616.2L1048.0 615.7L1051.8 610.4L1055.9 656.9L1059.9 643.7L1063.8 647.2L1067.8 659.0L1071.8 672.3L1075.7 665.6L1079.5 670.9L1083.9 666.5L1088.0 668.3L1091.8 674.8L1095.8 679.3L1099.7 684.6L1103.7 672.3L1107.6 670.6L1112.0 678.8L1116.0 678.8L1119.9 689.3L1123.9 670.0L1128.1 657.8L1132.1 667.0L1136.2 652.5L1139.7 647.8L1143.5 677.6L1147.8 691.3L1151.5 689.1L1155.6 684.5L1159.4 685.0L1162.9 673.3L1166.8 682.4L1170.8 696.1L1174.8 704.3L1178.7 705.2L1182.7 706.1L1186.6 714.0L1191.0 728.3L1191.0 594.4L10.5 594.4Z" fill="url(#gu)" clip-path="url(#cu)"/>
<path d="M10.5 669.0L11.9 673.3L15.8 673.3L20.2 675.1L23.7 659.3L27.2 663.7L31.9 683.0L35.9 671.6L40.0 652.8L43.8 673.3L48.2 676.3L51.7 651.4L56.1 650.0L60.1 665.4L64.0 660.2L68.0 678.6L72.2 672.8L76.3 655.8L79.8 642.3L83.8 647.0L87.7 640.0L91.7 637.4L95.5 653.2L99.9 653.2L103.8 640.0L107.8 616.4L111.9 612.0L115.7 598.0L119.7 577.8L123.6 576.0L127.6 565.9L131.8 591.8L135.9 578.7L139.4 565.9L143.4 576.9L147.3 574.6L151.1 572.5L155.2 580.9L159.2 579.5L163.0 603.2L167.1 597.1L170.9 593.2L175.0 578.1L178.8 590.9L182.9 611.1L186.9 605.0L191.1 627.2L194.6 620.7L199.0 618.1L203.4 612.0L207.4 608.5L211.3 620.7L214.8 619.5L219.1 637.4L223.0 625.1L227.0 658.4L230.0 646.9L233.9 635.5L238.8 625.8L242.6 607.4L247.0 603.4L251.0 619.7L255.1 615.7L258.9 618.8L262.4 635.5L266.5 636.7L270.3 639.0L274.2 650.4L278.2 665.8L282.1 661.8L286.1 656.5L290.1 667.0L294.0 669.7L298.0 651.8L301.9 653.9L305.9 650.4L309.8 653.9L314.2 657.7L318.2 677.0L322.0 671.8L326.1 670.0L329.9 674.1L334.0 675.8L337.8 685.8L341.9 680.2L345.7 672.3L350.1 646.9L354.1 646.0L358.0 617.4L361.8 666.5L365.9 639.5L369.7 665.3L373.8 676.7L377.8 675.3L381.8 667.0L385.7 657.4L389.5 656.0L393.0 646.9L397.1 654.8L400.9 657.7L405.0 657.0L408.8 650.0L412.9 647.2L416.9 641.3L420.7 646.9L424.6 644.2L429.0 630.8L433.0 636.4L436.9 625.8L440.9 611.8L444.8 606.2L448.8 608.3L453.0 605.7L457.0 613.6L461.1 606.6L464.9 588.1L466.1 595.0L469.6 610.8L473.1 631.8L477.0 622.2L481.0 630.1L485.1 653.7L488.9 649.7L493.0 654.3L496.8 641.5L500.8 643.7L505.1 640.6L509.1 647.6L512.9 657.2L517.0 663.4L520.1 666.0L524.0 673.5L528.0 659.9L531.9 642.7L535.9 636.7L539.8 630.9L544.2 632.7L548.2 635.7L552.0 656.0L556.1 651.5L559.9 659.0L564.0 647.2L567.8 639.7L571.9 630.9L575.7 636.7L580.1 642.7L584.1 652.9L588.0 660.7L591.8 656.4L595.9 682.7L599.9 684.1L603.8 663.7L607.8 654.3L611.8 662.0L615.7 659.0L619.5 674.8L623.6 687.9L627.4 689.3L631.5 695.8L635.8 705.1L639.7 695.8L643.7 705.4L647.2 708.1L651.1 721.2L655.0 726.8L659.0 721.2L663.0 726.1L666.9 704.6L670.9 690.5L674.8 694.1L678.8 700.2L682.7 701.6L687.0 709.8L691.1 692.3L694.9 679.7L698.8 668.3L702.8 678.8L707.0 678.3L711.0 687.6L715.1 689.3L718.9 690.2L723.0 660.7L726.8 645.0L730.8 642.0L735.1 637.2L739.1 628.0L743.1 640.8L747.0 670.9L751.0 662.1L754.9 663.0L758.9 665.6L762.9 657.2L766.8 667.0L770.6 678.8L774.7 674.8L778.5 681.8L782.4 682.3L786.4 690.2L789.9 709.8L794.0 716.5L797.8 695.1L801.9 690.2L805.7 677.0L810.1 663.0L814.1 673.5L818.0 680.2L821.8 667.4L825.9 649.5L829.9 654.8L833.8 657.8L837.8 660.4L841.8 663.5L845.7 664.8L849.5 667.7L853.9 666.0L858.0 656.0L861.8 628.0L865.8 644.3L869.7 650.7L873.7 655.1L877.6 625.0L882.0 629.2L886.0 625.7L889.9 599.9L893.9 615.2L898.1 619.7L902.1 609.2L905.6 629.2L909.1 606.9L913.5 601.7L917.4 596.9L921.4 596.9L925.3 611.3L929.1 602.5L933.1 630.2L937.0 639.7L941.0 645.5L945.1 651.3L948.9 656.5L953.0 660.4L956.8 670.6L960.8 681.8L965.1 707.7L969.1 706.0L972.6 702.8L976.6 691.1L980.8 697.6L984.9 676.2L988.9 682.8L992.9 684.9L996.8 686.7L1000.6 691.6L1005.0 695.8L1008.9 687.0L1012.9 679.7L1016.8 678.3L1020.8 674.8L1024.8 643.7L1028.7 636.2L1032.7 631.5L1036.6 618.0L1040.1 610.9L1044.1 616.2L1048.0 615.7L1051.8 610.4L1055.9 656.9L1059.9 643.7L1063.8 647.2L1067.8 659.0L1071.8 672.3L1075.7 665.6L1079.5 670.9L1083.9 666.5L1088.0 668.3L1091.8 674.8L1095.8 679.3L1099.7 684.6L1103.7 672.3L1107.6 670.6L1112.0 678.8L1116.0 678.8L1119.9 689.3L1123.9 670.0L1128.1 657.8L1132.1 667.0L1136.2 652.5L1139.7 647.8L1143.5 677.6L1147.8 691.3L1151.5 689.1L1155.6 684.5L1159.4 685.0L1162.9 673.3L1166.8 682.4L1170.8 696.1L1174.8 704.3L1178.7 705.2L1182.7 706.1L1186.6 714.0L1191.0 728.3L1191.0 706.6L10.5 706.6Z" fill="url(#gd)" clip-path="url(#cd)"/>
<path d="M10 594.5H1292" stroke="#787b86" stroke-width="1" stroke-dasharray="5 6" fill="none" shape-rendering="crispEdges"/>
<path d="M10 650.5H1292" stroke="#b2b5be" stroke-width="1" stroke-dasharray="5 6" fill="none" shape-rendering="crispEdges"/>
<path d="M10 706.5H1292" stroke="#787b86" stroke-width="1" stroke-dasharray="5 6" fill="none" shape-rendering="crispEdges"/>
<path d="M10.5 669.0L11.9 673.3L15.8 673.3L20.2 675.1L23.7 659.3L27.2 663.7L31.9 683.0L35.9 671.6L40.0 652.8L43.8 673.3L48.2 676.3L51.7 651.4L56.1 650.0L60.1 665.4L64.0 660.2L68.0 678.6L72.2 672.8L76.3 655.8L79.8 642.3L83.8 647.0L87.7 640.0L91.7 637.4L95.5 653.2L99.9 653.2L103.8 640.0L107.8 616.4L111.9 612.0L115.7 598.0L119.7 577.8L123.6 576.0L127.6 565.9L131.8 591.8L135.9 578.7L139.4 565.9L143.4 576.9L147.3 574.6L151.1 572.5L155.2 580.9L159.2 579.5L163.0 603.2L167.1 597.1L170.9 593.2L175.0 578.1L178.8 590.9L182.9 611.1L186.9 605.0L191.1 627.2L194.6 620.7L199.0 618.1L203.4 612.0L207.4 608.5L211.3 620.7L214.8 619.5L219.1 637.4L223.0 625.1L227.0 658.4L230.0 646.9L233.9 635.5L238.8 625.8L242.6 607.4L247.0 603.4L251.0 619.7L255.1 615.7L258.9 618.8L262.4 635.5L266.5 636.7L270.3 639.0L274.2 650.4L278.2 665.8L282.1 661.8L286.1 656.5L290.1 667.0L294.0 669.7L298.0 651.8L301.9 653.9L305.9 650.4L309.8 653.9L314.2 657.7L318.2 677.0L322.0 671.8L326.1 670.0L329.9 674.1L334.0 675.8L337.8 685.8L341.9 680.2L345.7 672.3L350.1 646.9L354.1 646.0L358.0 617.4L361.8 666.5L365.9 639.5L369.7 665.3L373.8 676.7L377.8 675.3L381.8 667.0L385.7 657.4L389.5 656.0L393.0 646.9L397.1 654.8L400.9 657.7L405.0 657.0L408.8 650.0L412.9 647.2L416.9 641.3L420.7 646.9L424.6 644.2L429.0 630.8L433.0 636.4L436.9 625.8L440.9 611.8L444.8 606.2L448.8 608.3L453.0 605.7L457.0 613.6L461.1 606.6L464.9 588.1L466.1 595.0L469.6 610.8L473.1 631.8L477.0 622.2L481.0 630.1L485.1 653.7L488.9 649.7L493.0 654.3L496.8 641.5L500.8 643.7L505.1 640.6L509.1 647.6L512.9 657.2L517.0 663.4L520.1 666.0L524.0 673.5L528.0 659.9L531.9 642.7L535.9 636.7L539.8 630.9L544.2 632.7L548.2 635.7L552.0 656.0L556.1 651.5L559.9 659.0L564.0 647.2L567.8 639.7L571.9 630.9L575.7 636.7L580.1 642.7L584.1 652.9L588.0 660.7L591.8 656.4L595.9 682.7L599.9 684.1L603.8 663.7L607.8 654.3L611.8 662.0L615.7 659.0L619.5 674.8L623.6 687.9L627.4 689.3L631.5 695.8L635.8 705.1L639.7 695.8L643.7 705.4L647.2 708.1L651.1 721.2L655.0 726.8L659.0 721.2L663.0 726.1L666.9 704.6L670.9 690.5L674.8 694.1L678.8 700.2L682.7 701.6L687.0 709.8L691.1 692.3L694.9 679.7L698.8 668.3L702.8 678.8L707.0 678.3L711.0 687.6L715.1 689.3L718.9 690.2L723.0 660.7L726.8 645.0L730.8 642.0L735.1 637.2L739.1 628.0L743.1 640.8L747.0 670.9L751.0 662.1L754.9 663.0L758.9 665.6L762.9 657.2L766.8 667.0L770.6 678.8L774.7 674.8L778.5 681.8L782.4 682.3L786.4 690.2L789.9 709.8L794.0 716.5L797.8 695.1L801.9 690.2L805.7 677.0L810.1 663.0L814.1 673.5L818.0 680.2L821.8 667.4L825.9 649.5L829.9 654.8L833.8 657.8L837.8 660.4L841.8 663.5L845.7 664.8L849.5 667.7L853.9 666.0L858.0 656.0L861.8 628.0L865.8 644.3L869.7 650.7L873.7 655.1L877.6 625.0L882.0 629.2L886.0 625.7L889.9 599.9L893.9 615.2L898.1 619.7L902.1 609.2L905.6 629.2L909.1 606.9L913.5 601.7L917.4 596.9L921.4 596.9L925.3 611.3L929.1 602.5L933.1 630.2L937.0 639.7L941.0 645.5L945.1 651.3L948.9 656.5L953.0 660.4L956.8 670.6L960.8 681.8L965.1 707.7L969.1 706.0L972.6 702.8L976.6 691.1L980.8 697.6L984.9 676.2L988.9 682.8L992.9 684.9L996.8 686.7L1000.6 691.6L1005.0 695.8L1008.9 687.0L1012.9 679.7L1016.8 678.3L1020.8 674.8L1024.8 643.7L1028.7 636.2L1032.7 631.5L1036.6 618.0L1040.1 610.9L1044.1 616.2L1048.0 615.7L1051.8 610.4L1055.9 656.9L1059.9 643.7L1063.8 647.2L1067.8 659.0L1071.8 672.3L1075.7 665.6L1079.5 670.9L1083.9 666.5L1088.0 668.3L1091.8 674.8L1095.8 679.3L1099.7 684.6L1103.7 672.3L1107.6 670.6L1112.0 678.8L1116.0 678.8L1119.9 689.3L1123.9 670.0L1128.1 657.8L1132.1 667.0L1136.2 652.5L1139.7 647.8L1143.5 677.6L1147.8 691.3L1151.5 689.1L1155.6 684.5L1159.4 685.0L1162.9 673.3L1166.8 682.4L1170.8 696.1L1174.8 704.3L1178.7 705.2L1182.7 706.1L1186.6 714.0L1191.0 728.3" stroke="#7e57c2" stroke-width="3" fill="none" stroke-linejoin="round" stroke-linecap="round"/>
<path d="M10.5 651.8L12.5 653.2L14.5 654.5L16.5 655.9L18.5 657.2L20.5 658.4L22.5 659.4L24.5 660.3L26.5 661.2L28.5 662.2L30.5 663.2L32.5 664.0L34.5 664.5L36.5 664.8L38.5 665.0L40.5 665.3L42.5 665.7L44.5 666.2L46.5 666.7L48.5 666.9L50.5 666.9L52.5 666.7L54.5 666.5L56.5 666.4L58.5 666.3L60.5 666.3L62.5 666.3L64.5 666.4L66.5 666.4L68.5 666.5L70.5 666.5L72.5 666.3L74.5 665.9L76.5 665.4L78.5 664.9L80.5 664.2L82.5 663.4L84.5 662.5L86.5 661.4L88.5 660.2L90.5 659.1L92.5 658.3L94.5 657.7L96.5 657.2L98.5 656.6L100.5 655.7L102.5 654.6L104.5 653.6L106.5 652.5L108.5 651.5L110.5 650.3L112.5 648.6L114.5 646.1L116.5 643.2L118.5 640.0L120.5 636.5L122.5 632.9L124.5 629.1L126.5 625.4L128.5 622.1L130.5 619.2L132.5 616.4L134.5 613.7L136.5 611.0L138.5 608.3L140.5 605.8L142.5 603.6L144.5 601.5L146.5 599.4L148.5 597.0L150.5 594.3L152.5 591.7L154.5 589.1L156.5 586.8L158.5 584.9L160.5 583.5L162.5 582.7L164.5 582.2L166.5 581.8L168.5 581.6L170.5 581.5L172.5 581.4L174.5 581.6L176.5 581.9L178.5 582.5L180.5 583.7L182.5 584.9L184.5 585.9L186.5 586.8L188.5 588.0L190.5 589.5L192.5 591.2L194.5 593.0L196.5 594.7L198.5 596.4L200.5 597.9L202.5 599.3L204.5 600.7L206.5 602.1L208.5 603.5L210.5 604.9L212.5 606.3L214.5 607.6L216.5 608.8L218.5 609.9L220.5 611.0L222.5 612.4L224.5 614.3L226.5 616.4L228.5 618.5L230.5 620.4L232.5 621.8L234.5 623.0L236.5 623.8L238.5 624.3L240.5 624.6L242.5 624.6L244.5 624.2L246.5 623.7L248.5 623.4L250.5 623.2L252.5 623.2L254.5 623.3L256.5 623.6L258.5 624.2L260.5 625.0L262.5 625.8L264.5 626.5L266.5 627.2L268.5 627.9L270.5 628.5L272.5 629.2L274.5 630.0L276.5 630.9L278.5 631.6L280.5 632.3L282.5 632.8L284.5 633.4L286.5 634.2L288.5 635.3L290.5 636.5L292.5 637.8L294.5 639.3L296.5 640.8L298.5 642.4L300.5 644.0L302.5 645.5L304.5 647.0L306.5 648.4L308.5 649.8L310.5 651.2L312.5 652.6L314.5 654.0L316.5 655.4L318.5 656.7L320.5 657.9L322.5 658.9L324.5 659.9L326.5 660.9L328.5 661.8L330.5 662.5L332.5 663.2L334.5 663.9L336.5 664.7L338.5 665.5L340.5 666.2L342.5 666.8L344.5 667.0L346.5 666.9L348.5 666.7L350.5 666.3L352.5 665.8L354.5 665.2L356.5 664.6L358.5 664.1L360.5 663.7L362.5 663.6L364.5 663.5L366.5 663.5L368.5 663.6L370.5 663.6L372.5 663.7L374.5 663.8L376.5 663.9L378.5 663.9L380.5 663.6L382.5 663.1L384.5 662.6L386.5 662.0L388.5 661.2L390.5 660.2L392.5 659.1L394.5 658.1L396.5 657.3L398.5 656.7L400.5 656.2L402.5 655.9L404.5 655.9L406.5 656.1L408.5 656.6L410.5 657.2L412.5 657.7L414.5 657.7L416.5 657.4L418.5 657.1L420.5 656.9L422.5 656.5L424.5 655.6L426.5 654.5L428.5 653.1L430.5 651.6L432.5 650.1L434.5 648.4L436.5 646.7L438.5 644.9L440.5 643.1L442.5 641.4L444.5 639.7L446.5 638.1L448.5 636.5L450.5 634.8L452.5 633.1L454.5 631.3L456.5 629.6L458.5 627.8L460.5 626.0L462.5 624.3L464.5 622.6L466.5 621.1L468.5 620.0L470.5 619.1L472.5 618.4L474.5 617.7L476.5 617.2L478.5 616.7L480.5 616.5L482.5 616.7L484.5 617.3L486.5 618.0L488.5 618.8L490.5 619.7L492.5 620.7L494.5 621.7L496.5 622.8L498.5 624.0L500.5 625.2L502.5 626.5L504.5 627.9L506.5 629.3L508.5 630.8L510.5 632.4L512.5 634.1L514.5 635.9L516.5 638.0L518.5 640.5L520.5 643.1L522.5 645.5L524.5 647.5L526.5 649.0L528.5 650.2L530.5 651.1L532.5 651.6L534.5 651.7L536.5 651.4L538.5 650.9L540.5 650.3L542.5 649.7L544.5 649.2L546.5 648.9L548.5 648.8L550.5 649.0L552.5 649.3L554.5 649.7L556.5 650.1L558.5 650.4L560.5 650.7L562.5 650.8L564.5 650.6L566.5 650.1L568.5 649.4L570.5 648.4L572.5 647.4L574.5 646.4L576.5 645.4L578.5 644.4L580.5 643.5L582.5 643.0L584.5 643.0L586.5 643.5L588.5 644.1L590.5 644.9L592.5 646.1L594.5 647.7L596.5 649.5L598.5 651.2L600.5 652.5L602.5 653.5L604.5 654.1L606.5 654.6L608.5 654.9L610.5 655.1L612.5 655.3L614.5 655.6L616.5 656.3L618.5 657.4L620.5 658.9L622.5 660.5L624.5 662.3L626.5 664.2L628.5 666.2L630.5 668.2L632.5 670.2L634.5 672.2L636.5 674.1L638.5 675.8L640.5 677.4L642.5 679.0L644.5 680.7L646.5 682.7L648.5 684.7L650.5 686.4L652.5 688.0L654.5 689.8L656.5 691.7L658.5 693.7L660.5 695.8L662.5 697.7L664.5 699.5L666.5 701.0L668.5 702.3L670.5 703.4L672.5 704.2L674.5 704.7L676.5 705.2L678.5 705.6L680.5 706.0L682.5 706.3L684.5 706.6L686.5 706.8L688.5 706.6L690.5 706.0L692.5 705.2L694.5 704.4L696.5 703.5L698.5 702.6L700.5 701.6L702.5 700.5L704.5 699.4L706.5 698.1L708.5 696.8L710.5 695.5L712.5 694.2L714.5 693.0L716.5 691.8L718.5 690.5L720.5 689.1L722.5 687.4L724.5 685.7L726.5 683.9L728.5 682.1L730.5 680.1L732.5 677.8L734.5 675.3L736.5 672.8L738.5 670.4L740.5 668.2L742.5 666.3L744.5 665.0L746.5 664.2L748.5 663.5L750.5 663.0L752.5 662.7L754.5 662.4L756.5 662.0L758.5 661.4L760.5 660.7L762.5 660.0L764.5 659.4L766.5 658.8L768.5 658.2L770.5 657.8L772.5 657.4L774.5 657.4L776.5 657.9L778.5 658.8L780.5 660.1L782.5 661.6L784.5 663.3L786.5 665.3L788.5 667.6L790.5 670.2L792.5 672.9L794.5 675.5L796.5 677.7L798.5 679.2L800.5 680.3L802.5 681.1L804.5 681.6L806.5 681.9L808.5 682.0L810.5 682.2L812.5 682.5L814.5 682.9L816.5 683.5L818.5 683.9L820.5 684.0L822.5 683.6L824.5 683.0L826.5 682.3L828.5 681.6L830.5 680.9L832.5 680.1L834.5 679.2L836.5 678.3L838.5 677.3L840.5 676.1L842.5 674.8L844.5 673.3L846.5 671.8L848.5 670.4L850.5 669.1L852.5 667.9L854.5 666.7L856.5 665.5L858.5 664.0L860.5 662.5L862.5 661.3L864.5 660.4L866.5 659.6L868.5 658.7L870.5 657.8L872.5 656.7L874.5 655.6L876.5 654.4L878.5 653.2L880.5 652.2L882.5 651.4L884.5 650.4L886.5 649.0L888.5 647.3L890.5 645.6L892.5 644.0L894.5 642.4L896.5 640.9L898.5 639.3L900.5 637.4L902.5 635.4L904.5 633.4L906.5 631.4L908.5 629.3L910.5 627.3L912.5 625.4L914.5 623.7L916.5 622.3L918.5 620.8L920.5 619.2L922.5 617.6L924.5 616.0L926.5 614.6L928.5 613.6L930.5 613.0L932.5 612.9L934.5 613.1L936.5 613.4L938.5 614.0L940.5 614.9L942.5 616.2L944.5 617.7L946.5 619.3L948.5 620.8L950.5 622.4L952.5 624.0L954.5 625.7L956.5 627.7L958.5 629.7L960.5 632.1L962.5 635.1L964.5 638.5L966.5 642.2L968.5 646.0L970.5 649.7L972.5 653.4L974.5 656.9L976.5 660.1L978.5 663.1L980.5 666.0L982.5 668.8L984.5 671.3L986.5 673.8L988.5 676.0L990.5 677.8L992.5 679.5L994.5 681.0L996.5 682.6L998.5 684.0L1000.5 685.5L1002.5 686.9L1004.5 688.1L1006.5 689.1L1008.5 690.0L1010.5 690.5L1012.5 690.8L1014.5 690.8L1016.5 690.3L1018.5 689.6L1020.5 688.4L1022.5 686.7L1024.5 684.7L1026.5 682.6L1028.5 680.5L1030.5 678.3L1032.5 675.9L1034.5 673.4L1036.5 670.6L1038.5 667.7L1040.5 665.0L1042.5 662.4L1044.5 659.9L1046.5 657.3L1048.5 654.6L1050.5 651.9L1052.5 649.5L1054.5 647.5L1056.5 645.9L1058.5 644.5L1060.5 642.9L1062.5 641.4L1064.5 640.2L1066.5 639.4L1068.5 638.8L1070.5 638.3L1072.5 638.0L1074.5 638.0L1076.5 638.4L1078.5 639.1L1080.5 640.0L1082.5 641.1L1084.5 642.3L1086.5 643.6L1088.5 645.1L1090.5 646.9L1092.5 649.0L1094.5 651.3L1096.5 653.8L1098.5 656.3L1100.5 658.7L1102.5 661.0L1104.5 663.1L1106.5 664.9L1108.5 666.4L1110.5 667.7L1112.5 668.9L1114.5 670.2L1116.5 671.4L1118.5 672.5L1120.5 673.3L1122.5 673.7L1124.5 673.9L1126.5 673.8L1128.5 673.5L1130.5 673.2L1132.5 672.8L1134.5 672.3L1136.5 671.7L1138.5 671.2L1140.5 671.1L1142.5 671.3L1144.5 671.7L1146.5 672.2L1148.5 672.7L1150.5 673.0L1152.5 673.2L1154.5 673.4L1156.5 673.5L1158.5 673.7L1160.5 673.9L1162.5 674.3L1164.5 674.7L1166.5 675.1L1168.5 675.7L1170.5 676.3L1172.5 677.0L1174.5 677.8L1176.5 678.7L1178.5 679.9L1180.5 681.4L1182.5 683.0L1184.5 684.9L1186.5 686.9L1188.5 688.8L1190.5 690.5L1191.0 691.5" stroke="#ffe83a" stroke-width="1.15" fill="none" stroke-linejoin="round" stroke-linecap="round"/>
<text x="10" y="19" font-size="13" fill="#131722" textLength="360" lengthAdjust="spacingAndGlyphs" stroke="#131722" stroke-width="0.22">ranadagger published on TradingView.com, Jun 22, 2025 15:54 UTC</text>
<text x="18" y="46" font-size="12.5" fill="#131722" textLength="163" lengthAdjust="spacingAndGlyphs" stroke="#131722" stroke-width="0.22">SOL / TetherUS · 4h · BINANCE</text>
<text x="189.2" y="46" font-size="12.5" fill="#131722" textLength="7.5" lengthAdjust="spacingAndGlyphs" stroke="#131722" stroke-width="0.22">O</text>
<text x="197.4" y="46" font-size="12.5" fill="#ef5350" textLength="35.2" lengthAdjust="spacingAndGlyphs" stroke="#ef5350" stroke-width="0.22">133.26</text>
<text x="240.6" y="46" font-size="12.5" fill="#131722" textLength="7.5" lengthAdjust="spacingAndGlyphs" stroke="#131722" stroke-width="0.22">H</text>
<text x="249" y="46" font-size="12.5" fill="#ef5350" textLength="35" lengthAdjust="spacingAndGlyphs" stroke="#ef5350" stroke-width="0.22">133.88</text>
<text x="292" y="46" font-size="12.5" fill="#131722" textLength="6" lengthAdjust="spacingAndGlyphs" stroke="#131722" stroke-width="0.22">L</text>
<text x="298.5" y="46" font-size="12.5" fill="#ef5350" textLength="33.5" lengthAdjust="spacingAndGlyphs" stroke="#ef5350" stroke-width="0.22">126.51</text>
<text x="339.8" y="46" font-size="12.5" fill="#131722" textLength="7" lengthAdjust="spacingAndGlyphs" stroke="#131722" stroke-width="0.22">C</text>
<text x="348" y="46" font-size="12.5" fill="#ef5350" textLength="35" lengthAdjust="spacingAndGlyphs" stroke="#ef5350" stroke-width="0.22">128.44</text>
<text x="391" y="46" font-size="12.5" fill="#ef5350" textLength="78" lengthAdjust="spacingAndGlyphs" stroke="#ef5350" stroke-width="0.22">−4.81 (−3.61%)</text>
<text x="18" y="62.8" font-size="12.5" fill="#131722" textLength="81.6" lengthAdjust="spacingAndGlyphs" stroke="#131722" stroke-width="0.22">EMA (20, close)</text>
<text x="108" y="62.8" font-size="12.5" fill="#2962ff" textLength="35.4" lengthAdjust="spacingAndGlyphs" stroke="#2962ff" stroke-width="0.22">139.36</text>
<text x="18" y="79.8" font-size="12.5" fill="#131722" textLength="81.3" lengthAdjust="spacingAndGlyphs" stroke="#131722" stroke-width="0.22">SMA (50, close)</text>
<text x="108" y="79.8" font-size="12.5" fill="#f23645" textLength="35" lengthAdjust="spacingAndGlyphs" stroke="#f23645" stroke-width="0.22">145.83</text>
<text x="18" y="575.7" font-size="12.5" fill="#131722" textLength="76" lengthAdjust="spacingAndGlyphs" stroke="#131722" stroke-width="0.22">RSI (14, close)</text>
<text x="102" y="575.7" font-size="12.5" fill="#7e57c2" textLength="29" lengthAdjust="spacingAndGlyphs" stroke="#7e57c2" stroke-width="0.22">22.00</text>
<text x="139" y="575.7" font-size="12.5" fill="#ffe83a" textLength="29" lengthAdjust="spacingAndGlyphs" stroke="#ffe83a" stroke-width="0.22">34.93</text>
<text x="175.5" y="575.7" font-size="10.5" fill="#131722" stroke="#131722" stroke-width="0.22">∅</text>
<text x="190.5" y="575.7" font-size="10.5" fill="#131722" stroke="#131722" stroke-width="0.22">∅</text>
<text x="205.5" y="575.7" font-size="10.5" fill="#131722" stroke="#131722" stroke-width="0.22">∅</text>
<text x="220.5" y="575.7" font-size="10.5" fill="#131722" stroke="#131722" stroke-width="0.22">∅</text>
<text x="874.2" y="131" font-size="24.5" fill="#089981" font-weight="bold" textLength="12.2" lengthAdjust="spacingAndGlyphs" >S</text>
<text x="1306" y="552.9" font-size="12" fill="#131722" textLength="35.2" lengthAdjust="spacingAndGlyphs" stroke="#131722" stroke-width="0.22">124.00</text>
<text x="1306" y="521.8" font-size="12" fill="#131722" textLength="35.2" lengthAdjust="spacingAndGlyphs" stroke="#131722" stroke-width="0.22">128.00</text>
<text x="1306" y="490.7" font-size="12" fill="#131722" textLength="35.2" lengthAdjust="spacingAndGlyphs" stroke="#131722" stroke-width="0.22">132.00</text>
<text x="1306" y="459.7" font-size="12" fill="#131722" textLength="35.2" lengthAdjust="spacingAndGlyphs" stroke="#131722" stroke-width="0.22">136.00</text>
<text x="1306" y="428.6" font-size="12" fill="#131722" textLength="35.2" lengthAdjust="spacingAndGlyphs" stroke="#131722" stroke-width="0.22">140.00</text>
<text x="1306" y="397.5" font-size="12" fill="#131722" textLength="35.2" lengthAdjust="spacingAndGlyphs" stroke="#131722" stroke-width="0.22">144.00</text>
<text x="1306" y="366.4" font-size="12" fill="#131722" textLength="35.2" lengthAdjust="spacingAndGlyphs" stroke="#131722" stroke-width="0.22">148.00</text>
<text x="1306" y="335.3" font-size="12" fill="#131722" textLength="35.2" lengthAdjust="spacingAndGlyphs" stroke="#131722" stroke-width="0.22">152.00</text>
<text x="1306" y="304.3" font-size="12" fill="#131722" textLength="35.2" lengthAdjust="spacingAndGlyphs" stroke="#131722" stroke-width="0.22">156.00</text>
<text x="1306" y="273.2" font-size="12" fill="#131722" textLength="35.2" lengthAdjust="spacingAndGlyphs" stroke="#131722" stroke-width="0.22">160.00</text>
<text x="1306" y="242.1" font-size="12" fill="#131722" textLength="35.2" lengthAdjust="spacingAndGlyphs" stroke="#131722" stroke-width="0.22">164.00</text>
<text x="1306" y="211.0" font-size="12" fill="#131722" textLength="35.2" lengthAdjust="spacingAndGlyphs" stroke="#131722" stroke-width="0.22">168.00</text>
<text x="1306" y="179.9" font-size="12" fill="#131722" textLength="35.2" lengthAdjust="spacingAndGlyphs" stroke="#131722" stroke-width="0.22">172.00</text>
<text x="1306" y="148.9" font-size="12" fill="#131722" textLength="35.2" lengthAdjust="spacingAndGlyphs" stroke="#131722" stroke-width="0.22">176.00</text>
<text x="1306" y="117.8" font-size="12" fill="#131722" textLength="35.2" lengthAdjust="spacingAndGlyphs" stroke="#131722" stroke-width="0.22">180.00</text>
<text x="1306" y="86.7" font-size="12" fill="#131722" textLength="35.2" lengthAdjust="spacingAndGlyphs" stroke="#131722" stroke-width="0.22">184.00</text>
<text x="1306" y="570.6" font-size="12" fill="#131722" textLength="29.2" lengthAdjust="spacingAndGlyphs" stroke="#131722" stroke-width="0.22">80.00</text>
<text x="1306" y="625.8" font-size="12" fill="#131722" textLength="29.2" lengthAdjust="spacingAndGlyphs" stroke="#131722" stroke-width="0.22">60.00</text>
<text x="1306" y="681.8" font-size="12" fill="#131722" textLength="29.2" lengthAdjust="spacingAndGlyphs" stroke="#131722" stroke-width="0.22">40.00</text>
<text x="1306" y="737.9" font-size="12" fill="#131722" textLength="29.2" lengthAdjust="spacingAndGlyphs" stroke="#131722" stroke-width="0.22">20.00</text>
<text x="60.8" y="755.5" font-size="11.5" fill="#131722" text-anchor="middle" textLength="5.9" lengthAdjust="spacingAndGlyphs" stroke="#131722" stroke-width="0.22">6</text>
<text x="132.8" y="755.5" font-size="11.5" fill="#131722" text-anchor="middle" textLength="5.9" lengthAdjust="spacingAndGlyphs" stroke="#131722" stroke-width="0.22">9</text>
<text x="203.8" y="755.5" font-size="11.5" fill="#131722" text-anchor="middle" textLength="11.8" lengthAdjust="spacingAndGlyphs" stroke="#131722" stroke-width="0.22">12</text>
<text x="274.8" y="755.5" font-size="11.5" fill="#131722" text-anchor="middle" textLength="11.8" lengthAdjust="spacingAndGlyphs" stroke="#131722" stroke-width="0.22">15</text>
<text x="346.8" y="755.5" font-size="11.5" fill="#131722" text-anchor="middle" textLength="11.8" lengthAdjust="spacingAndGlyphs" stroke="#131722" stroke-width="0.22">18</text>
<text x="417.8" y="755.5" font-size="11.5" fill="#131722" text-anchor="middle" textLength="11.8" lengthAdjust="spacingAndGlyphs" stroke="#131722" stroke-width="0.22">21</text>
<text x="489.8" y="755.5" font-size="11.5" fill="#131722" text-anchor="middle" textLength="11.8" lengthAdjust="spacingAndGlyphs" stroke="#131722" stroke-width="0.22">24</text>
<text x="560.8" y="755.5" font-size="11.5" fill="#131722" text-anchor="middle" textLength="11.8" lengthAdjust="spacingAndGlyphs" stroke="#131722" stroke-width="0.22">27</text>
<text x="679.8" y="755.5" font-size="11.5" fill="#131722" text-anchor="middle" textLength="17.5" lengthAdjust="spacingAndGlyphs" stroke="#131722" stroke-width="0.22">Jun</text>
<text x="751.8" y="755.5" font-size="11.5" fill="#131722" text-anchor="middle" textLength="5.9" lengthAdjust="spacingAndGlyphs" stroke="#131722" stroke-width="0.22">4</text>
<text x="822.8" y="755.5" font-size="11.5" fill="#131722" text-anchor="middle" textLength="5.9" lengthAdjust="spacingAndGlyphs" stroke="#131722" stroke-width="0.22">7</text>
<text x="894.8" y="755.5" font-size="11.5" fill="#131722" text-anchor="middle" textLength="11.8" lengthAdjust="spacingAndGlyphs" stroke="#131722" stroke-width="0.22">10</text>
<text x="965.8" y="755.5" font-size="11.5" fill="#131722" text-anchor="middle" textLength="11.8" lengthAdjust="spacingAndGlyphs" stroke="#131722" stroke-width="0.22">13</text>
<text x="1036.8" y="755.5" font-size="11.5" fill="#131722" text-anchor="middle" textLength="11.8" lengthAdjust="spacingAndGlyphs" stroke="#131722" stroke-width="0.22">16</text>
<text x="1108.8" y="755.5" font-size="11.5" fill="#131722" text-anchor="middle" textLength="11.8" lengthAdjust="spacingAndGlyphs" stroke="#131722" stroke-width="0.22">19</text>
<text x="1179.8" y="755.5" font-size="11.5" fill="#131722" text-anchor="middle" textLength="11.8" lengthAdjust="spacingAndGlyphs" stroke="#131722" stroke-width="0.22">22</text>
<text x="1251.8" y="755.5" font-size="11.5" fill="#131722" text-anchor="middle" textLength="11.8" lengthAdjust="spacingAndGlyphs" stroke="#131722" stroke-width="0.22">25</text>
<path d="M1298 66.0H1345a2 2 0 0 1 2 2V81.0a2 2 0 0 1 -2 2H1298Z" fill="#0000ff"/>
<text x="1306" y="78.8" font-size="12" fill="#fff" textLength="35.5" lengthAdjust="spacingAndGlyphs" stroke="#fff" stroke-width="0.45">185.00</text>
<path d="M1297 371.0V388.0H1249a2 2 0 0 1 -2 -2V373.0a2 2 0 0 1 2 -2Z" fill="#f23645"/>
<text x="1272.0" y="383.8" font-size="12" fill="#fff" text-anchor="middle" textLength="41" lengthAdjust="spacingAndGlyphs" stroke="#fff" stroke-width="0.45">SMA:MA</text>
<path d="M1298 371.0H1345a2 2 0 0 1 2 2V386.0a2 2 0 0 1 -2 2H1298Z" fill="#f23645"/>
<text x="1306" y="383.8" font-size="12" fill="#fff" textLength="35.5" lengthAdjust="spacingAndGlyphs" stroke="#fff" stroke-width="0.45">145.83</text>
<path d="M1298 404.0H1345a2 2 0 0 1 2 2V419.0a2 2 0 0 1 -2 2H1298Z" fill="#0000ff"/>
<text x="1306" y="416.8" font-size="12" fill="#fff" textLength="35.5" lengthAdjust="spacingAndGlyphs" stroke="#fff" stroke-width="0.45">140.00</text>
<path d="M1297 421.0V438.0H1268a2 2 0 0 1 -2 -2V423.0a2 2 0 0 1 2 -2Z" fill="#2962ff"/>
<text x="1281.5" y="433.8" font-size="12" fill="#fff" text-anchor="middle" textLength="22" lengthAdjust="spacingAndGlyphs" stroke="#fff" stroke-width="0.45">EMA</text>
<path d="M1298 421.0H1345a2 2 0 0 1 2 2V436.0a2 2 0 0 1 -2 2H1298Z" fill="#2962ff"/>
<text x="1306" y="433.8" font-size="12" fill="#fff" textLength="35.5" lengthAdjust="spacingAndGlyphs" stroke="#fff" stroke-width="0.45">139.36</text>
<path d="M1297 506.0V523.0H1243a2 2 0 0 1 -2 -2V508.0a2 2 0 0 1 2 -2Z" fill="#ef5350"/>
<text x="1269.0" y="518.8" font-size="12" fill="#fff" text-anchor="middle" textLength="47" lengthAdjust="spacingAndGlyphs" stroke="#fff" stroke-width="0.45">SOLUSDT</text>
<path d="M1298 506H1353a2 2 0 0 1 2 2V549a2 2 0 0 1 -2 2H1298Z" fill="#ef5350"/>
<text x="1306" y="518.8" font-size="12" fill="#fff" textLength="35.5" lengthAdjust="spacingAndGlyphs" stroke="#fff" stroke-width="0.45">128.44</text>
<text x="1306" y="532.8" font-size="12" fill="#fff" textLength="43" lengthAdjust="spacingAndGlyphs" stroke="#fff" stroke-width="0.45">−12.45%</text>
<text x="1306" y="546.8" font-size="12" fill="#fbe0df" textLength="29" lengthAdjust="spacingAndGlyphs" stroke="#fbe0df" stroke-width="0.3">05:12</text>
<path d="M1297 684.0V701.0H1220a2 2 0 0 1 -2 -2V686.0a2 2 0 0 1 2 -2Z" fill="#ffeb3b"/>
<text x="1257.5" y="696.8" font-size="12" fill="#131722" text-anchor="middle" textLength="70" lengthAdjust="spacingAndGlyphs" stroke="#131722" stroke-width="0.22">RSI-based MA</text>
<path d="M1298 684.0H1339a2 2 0 0 1 2 2V699.0a2 2 0 0 1 -2 2H1298Z" fill="#ffeb3b"/>
<text x="1306" y="696.8" font-size="12" fill="#131722" textLength="29.3" lengthAdjust="spacingAndGlyphs" stroke="#131722" stroke-width="0.22">34.93</text>
<path d="M1297 720.0V737.0H1274a2 2 0 0 1 -2 -2V722.0a2 2 0 0 1 2 -2Z" fill="#7e57c2"/>
<text x="1284.5" y="732.8" font-size="12" fill="#fff" text-anchor="middle" textLength="15" lengthAdjust="spacingAndGlyphs" stroke="#fff" stroke-width="0.45">RSI</text>
<path d="M1298 720.0H1339a2 2 0 0 1 2 2V735.0a2 2 0 0 1 -2 2H1298Z" fill="#7e57c2"/>
<text x="1306" y="732.8" font-size="12" fill="#fff" textLength="29.3" lengthAdjust="spacingAndGlyphs" stroke="#fff" stroke-width="0.45">22.00</text>
<rect x="1300.5" y="31.5" width="54" height="25" rx="4" fill="#fff" stroke="#e6e8ec"/>
<text x="1324" y="49" font-size="12" fill="#131722" text-anchor="middle" textLength="27" lengthAdjust="spacingAndGlyphs" stroke="#131722" stroke-width="0.22">USDT</text>
<path d="M1200.87 540.86A9.8 9.8 0 1 1 1194.43 534.08" fill="none" stroke="#9c27b0" stroke-width="1.5" stroke-linecap="round"/>
<path d="M1193.7 538.6L1187.6 543.6H1191L1189 548.2L1195.3 543.1H1191.9Z" fill="#9c27b0" stroke="#9c27b0" stroke-width="0.8" stroke-linejoin="round"/>
<circle cx="1198.3" cy="536.5" r="2.6" fill="#f23645"/>
<path d="M10 778.1h7.9v9.7H14v-6H10zM24.3 778.1h5.5l-3.7 9.7h-4.7z" fill="#0a0a0c"/><circle cx="20.9" cy="780.1" r="1.8" fill="#0a0a0c"/>
<text x="33.2" y="787.8" font-size="13" fill="#0a0a0c" textLength="70" lengthAdjust="spacingAndGlyphs" stroke="#0a0a0c" stroke-width="0.22">TradingView</text>
</svg>
</body></html>
